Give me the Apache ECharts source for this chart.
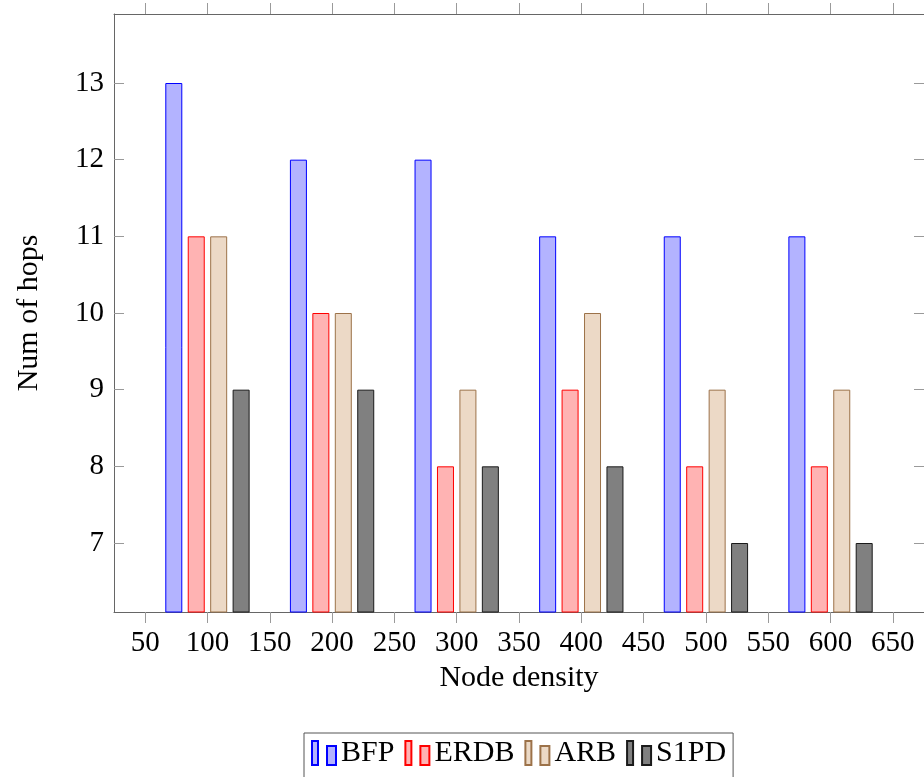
<!DOCTYPE html>
<html>
<head>
<meta charset="utf-8">
<title>Num of hops vs node density</title>
<script src="https://cdn.jsdelivr.net/npm/echarts@6/dist/echarts.min.js"></script>
<style>
  html, body { margin: 0; padding: 0; background: #fff; }
  #chart { width: 924px; height: 777px; }
</style>
</head>
<body>
<div id="chart"></div>
<script>
// Node densities where each group of bars sits
const nodeDensity = [100, 200, 300, 400, 500, 600];

// Number of hops per scheme
const bfp  = [13, 12, 12, 11, 11, 11];
const erdb = [11, 10, 8, 9, 8, 8];
const arb  = [11, 10, 9, 10, 9, 9];
const s1pd = [9, 9, 8, 8, 7, 7];

// Tick positions on each axis
const xTicks = [50, 100, 150, 200, 250, 300, 350, 400, 450, 500, 550, 600, 650];
const yTicks = [7, 8, 9, 10, 11, 12, 13];

const FONT = 'Liberation Serif';
const AXIS_LINE = '#666';
const TICK = '#9a9a9a';

function pairs(values) {
  return nodeDensity.map((x, i) => [x, values[i]]);
}

function barSeries(name, values, fill, stroke) {
  return {
    name: name,
    type: 'bar',
    data: pairs(values),
    barWidth: 17,
    barGap: '32%',
    itemStyle: { color: fill, borderColor: stroke, borderWidth: 1 },
    emphasis: { disabled: true }
  };
}

const chart = echarts.init(document.getElementById('chart'), null, { renderer: 'canvas' });

chart.setOption({
  animation: false,
  backgroundColor: '#ffffff',
  textStyle: { fontFamily: FONT, color: '#000' },
  grid: { left: 114, top: 14, right: -1, bottom: 165, containLabel: false },
  xAxis: [
    {
      type: 'value',
      position: 'bottom',
      min: 25,
      max: 675,
      name: 'Node density',
      nameLocation: 'middle',
      nameGap: 42,
      nameTextStyle: { fontFamily: FONT, fontSize: 30, color: '#000' },
      axisLine: { show: true, onZero: false, lineStyle: { color: AXIS_LINE, width: 1 } },
      axisTick: { show: true, inside: false, length: 11, customValues: xTicks,
                  lineStyle: { color: TICK, width: 1 } },
      axisLabel: { show: true, margin: 17, customValues: xTicks,
                   fontFamily: FONT, fontSize: 29, color: '#000',
                   showMinLabel: true, showMaxLabel: true },
      splitLine: { show: false }
    },
    {
      type: 'value',
      position: 'top',
      min: 25,
      max: 675,
      axisLine: { show: true, onZero: false, lineStyle: { color: AXIS_LINE, width: 1 } },
      axisTick: { show: true, inside: false, length: 11, customValues: xTicks,
                  lineStyle: { color: TICK, width: 1 } },
      axisLabel: { show: false },
      splitLine: { show: false }
    }
  ],
  yAxis: [
    {
      type: 'value',
      position: 'left',
      min: 6.1,
      max: 13.9,
      name: 'Num of hops',
      nameLocation: 'middle',
      nameGap: 70,
      nameRotate: 90,
      nameTextStyle: { fontFamily: FONT, fontSize: 30, color: '#000' },
      axisLine: { show: true, onZero: false, lineStyle: { color: AXIS_LINE, width: 1 } },
      axisTick: { show: true, inside: true, length: 10, customValues: yTicks,
                  lineStyle: { color: TICK, width: 1 } },
      axisLabel: { show: true, margin: 10, customValues: yTicks,
                   fontFamily: FONT, fontSize: 29, color: '#000' },
      splitLine: { show: false }
    },
    {
      type: 'value',
      position: 'right',
      min: 6.1,
      max: 13.9,
      axisLine: { show: true, onZero: false, lineStyle: { color: AXIS_LINE, width: 1 } },
      axisTick: { show: true, inside: true, length: 10, customValues: yTicks,
                  lineStyle: { color: TICK, width: 1 } },
      axisLabel: { show: false },
      splitLine: { show: false }
    }
  ],
  legend: {
    left: 304,
    top: 733,
    orient: 'horizontal',
    padding: [5, 7, 14, 7],
    itemGap: 10,
    itemWidth: 24,
    itemHeight: 24,
    icon: 'path://M0,0h6v24h-6zM15,5h9v19h-9z',
    borderColor: '#555',
    borderWidth: 1,
    selectedMode: false,
    textStyle: { fontFamily: FONT, fontSize: 30, color: '#000', padding: [8, 0, 0, 0] },
    data: ['BFP', 'ERDB', 'ARB', 'S1PD']
  },
  series: [
    barSeries('BFP',  bfp,  '#b3b3ff', '#0000ff'),
    barSeries('ERDB', erdb, '#ffb3b3', '#ff0000'),
    barSeries('ARB',  arb,  '#ecd9c6', '#9c7249'),
    barSeries('S1PD', s1pd, '#808080', '#1a1a1a')
  ]
});
</script>
</body>
</html>
